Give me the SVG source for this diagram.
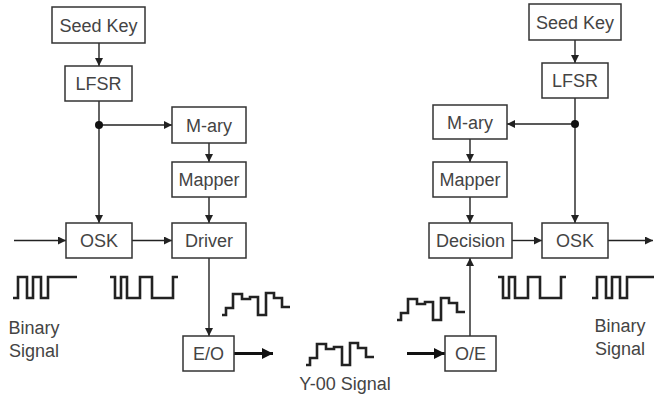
<svg xmlns="http://www.w3.org/2000/svg" width="654" height="395" viewBox="0 0 654 395">
<defs>
<style>
.box{fill:#fff;stroke:#333;stroke-width:1.5}
.lbl{font-family:"Liberation Sans",Arial,sans-serif;font-size:18px;fill:#444;text-anchor:middle}
.ln{stroke:#222;stroke-width:1.4;fill:none}
.thick{stroke:#111;stroke-width:3;fill:none}
.wave{stroke:#222;stroke-width:2.6;fill:none;stroke-linejoin:miter}
</style>
<marker id="ah" viewBox="0 0 10 10" refX="10" refY="5" markerWidth="8" markerHeight="8" markerUnits="userSpaceOnUse" orient="auto"><path d="M0,0 L10,5 L0,10 z" fill="#222"/></marker>
<marker id="ahT" viewBox="0 0 10 10" refX="10" refY="5" markerWidth="11" markerHeight="11" markerUnits="userSpaceOnUse" orient="auto"><path d="M0,0 L10,5 L0,10 z" fill="#111"/></marker>
<path id="y00" d="M0,0 H4 V-7 H11 V-21 H20 V-16 H28 V-18 H36 V0 H44 V-22 H52 V-17 H60 V-8 H68"/>
<path id="bin" d="M0,21 H5 V0 H14 V21 H20 V0 H28 V21 H35 V0 H64"/>
<path id="osk" d="M0,0 H5 V21 H11 V0 H17 V21 H30 V0 H42 V21 H63 V0 H68"/>
</defs>

<g id="connectors">
<line class="ln" x1="99" y1="43" x2="99" y2="66" marker-end="url(#ah)"/>
<line class="ln" x1="99" y1="101" x2="99" y2="223" marker-end="url(#ah)"/>
<line class="ln" x1="99" y1="125" x2="172" y2="125" marker-end="url(#ah)"/>
<circle cx="99" cy="125" r="4" fill="#111"/>
<line class="ln" x1="209" y1="143" x2="209" y2="162" marker-end="url(#ah)"/>
<line class="ln" x1="209" y1="197" x2="209" y2="223" marker-end="url(#ah)"/>
<line class="ln" x1="14" y1="240.5" x2="66" y2="240.5" marker-end="url(#ah)"/>
<line class="ln" x1="132" y1="240.5" x2="172" y2="240.5" marker-end="url(#ah)"/>
<line class="ln" x1="209" y1="258" x2="209" y2="336" marker-end="url(#ah)"/>
<line class="thick" x1="234" y1="353.5" x2="273" y2="353.5" marker-end="url(#ahT)"/>

<line class="ln" x1="575" y1="40" x2="575" y2="63" marker-end="url(#ah)"/>
<line class="ln" x1="575" y1="98" x2="575" y2="223" marker-end="url(#ah)" stroke="#555"/>
<line class="ln" x1="575" y1="124" x2="507" y2="124" marker-end="url(#ah)"/>
<circle cx="575" cy="124" r="4" fill="#111"/>
<line class="ln" x1="470" y1="139" x2="470" y2="162" marker-end="url(#ah)"/>
<line class="ln" x1="470" y1="197" x2="470" y2="223" marker-end="url(#ah)"/>
<line class="ln" x1="512" y1="240.5" x2="542" y2="240.5" marker-end="url(#ah)"/>
<line class="ln" x1="608" y1="240.5" x2="653" y2="240.5" marker-end="url(#ah)"/>
<line class="ln" x1="470" y1="336" x2="470" y2="258" marker-end="url(#ah)"/>
<line class="thick" x1="407" y1="353.5" x2="445" y2="353.5" marker-end="url(#ahT)"/>
</g>

<g id="seedkey-tx"><rect class="box" x="52" y="7" width="93" height="36"/><text class="lbl" x="98.5" y="31.5">Seed Key</text></g>
<g id="lfsr-tx"><rect class="box" x="65" y="66" width="67" height="35"/><text class="lbl" x="98.5" y="90">LFSR</text></g>
<g id="mary-tx"><rect class="box" x="172" y="107" width="74" height="36"/><text class="lbl" x="209" y="131.5">M-ary</text></g>
<g id="mapper-tx"><rect class="box" x="172" y="162" width="74" height="35"/><text class="lbl" x="209" y="186">Mapper</text></g>
<g id="osk-tx"><rect class="box" x="66" y="223" width="66" height="35"/><text class="lbl" x="99" y="247">OSK</text></g>
<g id="driver"><rect class="box" x="172" y="223" width="74" height="35"/><text class="lbl" x="209" y="247">Driver</text></g>
<g id="eo"><rect class="box" x="183" y="336" width="51" height="35"/><text class="lbl" x="208.5" y="360">E/O</text></g>

<g id="seedkey-rx"><rect class="box" x="529" y="4" width="92" height="36"/><text class="lbl" x="575" y="28.5">Seed Key</text></g>
<g id="lfsr-rx"><rect class="box" x="542" y="63" width="66" height="35"/><text class="lbl" x="575" y="87">LFSR</text></g>
<g id="mary-rx"><rect class="box" x="433" y="105" width="74" height="34"/><text class="lbl" x="470" y="128.5">M-ary</text></g>
<g id="mapper-rx"><rect class="box" x="433" y="162" width="74" height="35"/><text class="lbl" x="470" y="186">Mapper</text></g>
<g id="decision"><rect class="box" x="429" y="223" width="83" height="35"/><text class="lbl" x="470.5" y="247">Decision</text></g>
<g id="osk-rx"><rect class="box" x="542" y="223" width="66" height="35"/><text class="lbl" x="575" y="247">OSK</text></g>
<g id="oe"><rect class="box" x="445" y="336" width="51" height="35"/><text class="lbl" x="470.5" y="360">O/E</text></g>

<g id="waves">
<use href="#bin" class="wave" x="13" y="277"/>
<use href="#osk" class="wave" x="110" y="277"/>
<use href="#y00" class="wave" x="222" y="315"/>
<use href="#y00" class="wave" x="306" y="365"/>
<use href="#y00" class="wave" x="397" y="320"/>
<use href="#osk" class="wave" x="498" y="277"/>
<use href="#bin" class="wave" x="592" y="277"/>
</g>

<g id="labels">
<text class="lbl" x="34" y="334">Binary</text>
<text class="lbl" x="34" y="357">Signal</text>
<text class="lbl" x="620" y="332">Binary</text>
<text class="lbl" x="620" y="355">Signal</text>
<text class="lbl" x="345" y="390">Y-00 Signal</text>
</g>
</svg>
